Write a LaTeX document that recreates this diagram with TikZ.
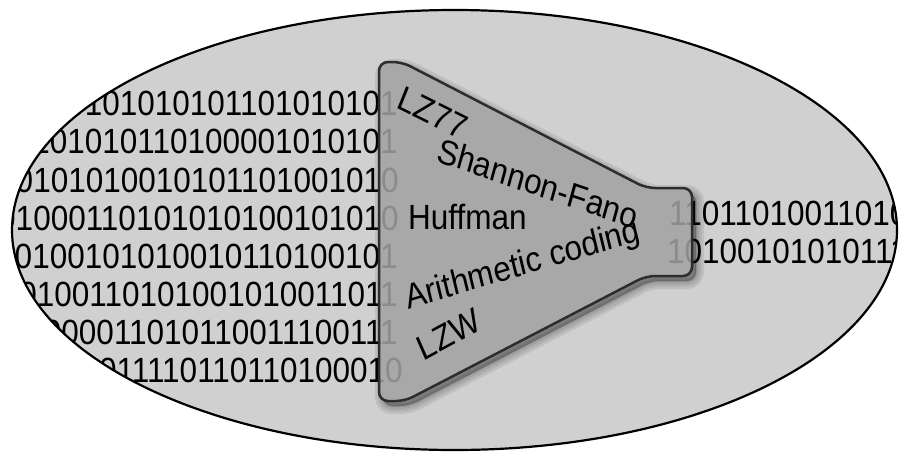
\documentclass[tikz,border=0pt]{standalone}
\usepackage{fontspec}
\setmainfont{Liberation Sans}
\definecolor{ellfill}{RGB}{208,208,208}
\definecolor{fnlfill}{RGB}{162,162,162}
\definecolor{fnledge}{RGB}{45,45,45}
\begin{document}
\begin{tikzpicture}[x=1pt,y=-1pt,
  bits/.style={font=\fontsize{35}{42}\selectfont, inner sep=0pt, text=black, xscale=0.9},
  lbl/.style={font=\fontsize{35}{42}\selectfont, inner sep=0pt, text=black},
  shadowlayer/.style={fill=black, draw=black, opacity=0.08}]
\useasboundingbox (0,0) rectangle (902,453);
\fill[white] (0,0) rectangle (902,453);
\def\fnlpath{[rounded corners=9pt] (379,62) -- (402,62) -- (646,188) -- (692,188) -- (692,276) -- (646,276) -- (405,401) -- (379,401) -- cycle}
% ellipse background
\fill[ellfill] (454.5,230) ellipse [x radius=442.5, y radius=220];
% binary streams, clipped by the ellipse
\begin{scope}
  \clip (454.5,230) ellipse [x radius=442.5, y radius=220];
  \node[bits, anchor=base east] (r1) at (398,115) {0110101010101101010101};
  \node[bits, anchor=base east] (r2) at (398,153) {1101010110100001010101};
  \node[bits, anchor=base east] (r3) at (399,192) {10101010010101101001010};
  \node[bits, anchor=base east] (r4) at (399,230) {01000110101010100101010};
  \node[bits, anchor=base east] (r5) at (398,268) {10100101010010110100101};
  \node[bits, anchor=base east] (r6) at (398,306) {10100110101001010011011};
  \node[bits, anchor=base east] (r7) at (398,344) {11000011010110011100111};
  \node[bits, anchor=base east] (r8) at (403,382) {1011011110110110100010};
  \node[bits, anchor=base west] (o1) at (669,225) {1101101001101011};
  \node[bits, anchor=base west] (o2) at (667,263) {1010010101011101};
\end{scope}
\draw[line width=2.2pt, black] (454.5,230) ellipse [x radius=442.5, y radius=220];
% shadow of the funnel (outside only)
\begin{scope}
  \pgfseteorule
  \clip (-20,-20) rectangle (922,473) \fnlpath;
  \begin{scope}[shift={(4,5)}]
    \foreach \w in {16,11,6,2} {
      \path[shadowlayer, line width=\w pt] \fnlpath;
    }
  \end{scope}
\end{scope}
% funnel
\path[fill=fnlfill, fill opacity=0.86, draw=fnledge, line width=2.5pt] \fnlpath;
% labels
\node[lbl, xscale=0.9, rotate=-24] (lz77) at (433,113) {LZ77};
\node[lbl, xscale=0.9, rotate=-17] (sf) at (538,183) {Shannon-Fano};
\node[lbl, xscale=0.9, anchor=base west] (huff) at (408,229) {Huffman};
\node[lbl, xscale=0.9, rotate=15] (arith) at (523,266) {Arithmetic coding};
\node[lbl, xscale=0.9, rotate=26] (lzw) at (449,334) {LZW};
\end{tikzpicture}
\end{document}
